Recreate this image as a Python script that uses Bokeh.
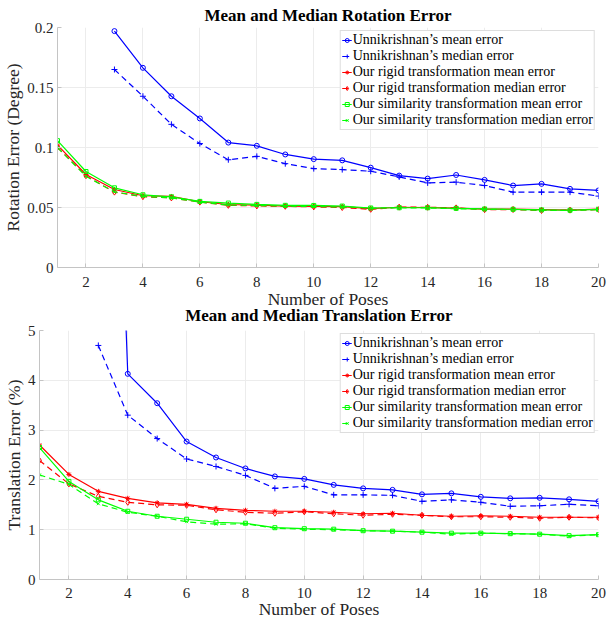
from bokeh.plotting import figure
from bokeh.models import (Range1d, FixedTicker, CustomJSTickFormatter, Legend, LegendItem)
from bokeh.embed import file_html
from bokeh.resources import INLINE

# ---------------- data ----------------
poses = list(range(1, 21))
poses_u = list(range(3, 21))

rot_unni_mean = [0.197, 0.1664, 0.1427, 0.1242, 0.1041, 0.1014, 0.0942, 0.0903, 0.0893, 0.0832,
                 0.0766, 0.0741, 0.0771, 0.0730, 0.0683, 0.0697, 0.0655, 0.0642]
rot_unni_median = [0.165, 0.1427, 0.1193, 0.1033, 0.0898, 0.0926, 0.0865, 0.0824, 0.0816, 0.0802,
                   0.0755, 0.0705, 0.0711, 0.0683, 0.0628, 0.0628, 0.0628, 0.0595]
rot_rigid_mean = [0.102, 0.0775, 0.065, 0.0598, 0.0592, 0.0548, 0.0525, 0.052, 0.0512, 0.051,
                  0.0508, 0.049, 0.0502, 0.050, 0.0495, 0.0487, 0.0487, 0.0482, 0.0478, 0.0487]
rot_rigid_median = [0.100, 0.0765, 0.0628, 0.059, 0.058, 0.0545, 0.0518, 0.0513, 0.051, 0.0505,
                    0.0500, 0.0485, 0.0503, 0.0502, 0.0497, 0.0482, 0.0483, 0.0475, 0.0478, 0.0482]
rot_sim_mean = [0.1057, 0.080, 0.0664, 0.0606, 0.0589, 0.0551, 0.0537, 0.0526, 0.0518, 0.0517,
                0.0512, 0.0496, 0.0498, 0.0498, 0.0493, 0.0488, 0.0485, 0.048, 0.0477, 0.0485]
rot_sim_median = [0.100, 0.076, 0.063, 0.0592, 0.058, 0.0545, 0.052, 0.0517, 0.0512, 0.0507,
                  0.0505, 0.0495, 0.0498, 0.0496, 0.049, 0.0485, 0.0483, 0.0478, 0.0475, 0.0483]

tr_unni_mean = [20.0, 4.13, 3.54, 2.77, 2.45, 2.23, 2.07, 2.02, 1.90, 1.83,
                1.80, 1.71, 1.73, 1.66, 1.63, 1.64, 1.61, 1.57]
tr_unni_median = [4.70, 3.30, 2.83, 2.42, 2.27, 2.09, 1.83, 1.87, 1.70, 1.70,
                  1.69, 1.57, 1.60, 1.55, 1.47, 1.48, 1.51, 1.48]
tr_rigid_mean = [2.70, 2.11, 1.77, 1.63, 1.54, 1.51, 1.43, 1.39, 1.37, 1.37,
                 1.35, 1.32, 1.33, 1.29, 1.27, 1.28, 1.27, 1.25, 1.25, 1.25]
tr_rigid_median = [2.39, 1.92, 1.67, 1.55, 1.50, 1.49, 1.40, 1.35, 1.33, 1.36,
                   1.32, 1.29, 1.31, 1.29, 1.26, 1.26, 1.25, 1.23, 1.25, 1.24]
tr_sim_mean = [2.65, 1.97, 1.60, 1.37, 1.27, 1.21, 1.15, 1.13, 1.04, 1.02,
               1.01, 0.98, 0.97, 0.95, 0.93, 0.93, 0.92, 0.91, 0.88, 0.90]
tr_sim_median = [2.10, 1.91, 1.52, 1.35, 1.27, 1.16, 1.11, 1.12, 1.03, 1.01,
                 1.00, 0.98, 0.97, 0.95, 0.91, 0.93, 0.92, 0.91, 0.87, 0.90]

x_ticks = [2, 4, 6, 8, 10, 12, 14, 16, 18, 20]
rot_ticks = [0, 0.05, 0.1, 0.15, 0.2]
tr_ticks = [0, 1, 2, 3, 4, 5]

legend_labels = ["Unnikrishnan\u2019s mean error", "Unnikrishnan\u2019s median error",
                 "Our rigid transformation mean error", "Our rigid transformation median error",
                 "Our similarity transformation mean error", "Our similarity transformation median error"]

FONT = "Liberation Serif"
TXT = "#262626"
AX = "#c4c4c4"
GRID = "#ececec"

BLUE, RED, GREEN = "#0000ff", "#ff0000", "#00ff00"


def make_fig(title, ylabel, yrange, yticks, fmt, width, height, mb_left, mb_bottom, mb_top,
             title_standoff, tick_standoff, label_standoff):
    p = figure(width=width, height=height, output_backend="svg", toolbar_location=None,
               x_range=Range1d(1, 20), y_range=Range1d(*yrange),
               min_border_left=mb_left, min_border_right=9, min_border_bottom=mb_bottom,
               min_border_top=mb_top)
    p.title.text = title
    p.title.text_font = FONT
    p.title.text_font_size = "17px"
    p.title.text_font_style = "bold"
    p.title.align = "center"
    p.title.text_color = "#000000"
    p.title.standoff = title_standoff
    p.outline_line_color = None
    p.xaxis.ticker = FixedTicker(ticks=x_ticks)
    p.yaxis.ticker = FixedTicker(ticks=yticks)
    p.yaxis.formatter = CustomJSTickFormatter(code=fmt)
    for ax in (p.xaxis, p.yaxis):
        ax.axis_line_color = AX
        ax.major_tick_line_color = AX
        ax.major_tick_in = 4
        ax.major_tick_out = 0
        ax.minor_tick_line_color = None
        ax.major_label_text_font = FONT
        ax.major_label_text_font_size = "15px"
        ax.major_label_text_color = TXT
        ax.axis_label_text_font = FONT
        ax.axis_label_text_font_size = "17.5px"
        ax.axis_label_text_font_style = "normal"
        ax.axis_label_text_color = TXT
    p.xaxis.major_label_standoff = tick_standoff
    p.yaxis.major_label_standoff = 4
    p.xaxis.axis_label_standoff = label_standoff
    p.yaxis.axis_label_standoff = 1
    p.xaxis.axis_label = "Number of Poses"
    p.yaxis.axis_label = ylabel
    p.xgrid.grid_line_color = GRID
    p.ygrid.grid_line_color = GRID
    p.xgrid.ticker = FixedTicker(ticks=x_ticks)
    p.ygrid.ticker = FixedTicker(ticks=yticks)
    return p


def add_series(p, data):
    items = []
    for (xs, ys, color, dash, marker, msize, fill, label) in data:
        lr = p.line(xs, ys, line_color=color, line_width=1.2, line_dash=dash)
        sr = p.scatter(xs, ys, marker=marker, size=msize, line_color=color,
                       fill_color=fill, line_width=1)
        items.append(LegendItem(label=label, renderers=[lr, sr]))
    leg = Legend(items=items, location="top_right")
    leg.label_text_font = FONT
    leg.label_text_font_size = "14px"
    leg.label_text_color = "#000000"
    leg.label_height = 16
    leg.glyph_height = 16
    leg.glyph_width = 10
    leg.label_standoff = 1
    leg.spacing = 0
    leg.padding = 1
    leg.margin = 3
    leg.border_line_color = "#bcbcbc"
    leg.border_line_width = 1
    leg.background_fill_color = "white"
    leg.background_fill_alpha = 1.0
    p.add_layout(leg)


rot_fmt = "return String(Math.round(tick*100)/100);"
tr_fmt = "return String(tick);"

p1 = make_fig("Mean and Median Rotation Error", "Rotation Error (Degree)", (0, 0.2), rot_ticks,
              rot_fmt, 607, 311, 57, 44, 26, 6, 9, -1)
add_series(p1, [
    (poses_u, rot_unni_mean, BLUE, "solid", "circle", 5, None, legend_labels[0]),
    (poses_u, rot_unni_median, BLUE, "6 4", "cross", 6, None, legend_labels[1]),
    (poses, rot_rigid_mean, RED, "solid", "asterisk", 5, None, legend_labels[2]),
    (poses, rot_rigid_median, RED, "6 4", "diamond", 6, None, legend_labels[3]),
    (poses, rot_sim_mean, GREEN, "solid", "square", 4, None, legend_labels[4]),
    (poses, rot_sim_median, GREEN, "6 4", "x", 4, None, legend_labels[5]),
])

p2 = make_fig("Mean and Median Translation Error", "Translation Error (%)", (0, 5), tr_ticks,
              tr_fmt, 607, 324, 38, 42, 32, 12, 8, -2)
p2.border_fill_alpha = 0
p2.margin = (-14, 0, 0, 0)
add_series(p2, [
    (poses_u, tr_unni_mean, BLUE, "solid", "circle", 5, None, legend_labels[0]),
    (poses_u, tr_unni_median, BLUE, "6 4", "cross", 6, None, legend_labels[1]),
    (poses, tr_rigid_mean, RED, "solid", "asterisk", 5, None, legend_labels[2]),
    (poses, tr_rigid_median, RED, "6 4", "diamond", 6, None, legend_labels[3]),
    (poses, tr_sim_mean, GREEN, "solid", "square", 4, None, legend_labels[4]),
    (poses, tr_sim_median, GREEN, "6 4", "x", 4, None, legend_labels[5]),
])

open("out.html", "w").write(file_html([p1, p2], INLINE))
